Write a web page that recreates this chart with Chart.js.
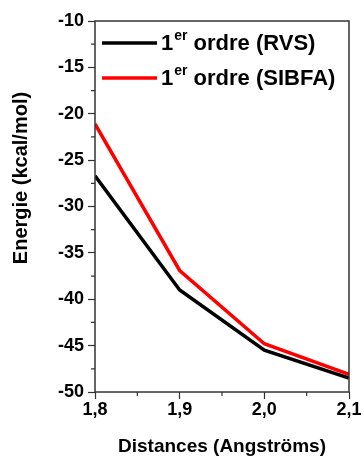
<!DOCTYPE html>
<html>
<head>
<meta charset="utf-8">
<script src="https://cdn.jsdelivr.net/npm/chart.js@4.4.0/dist/chart.umd.min.js"></script>
<style>
  html, body { margin: 0; padding: 0; background: #fff; }
  #wrap { width: 364px; height: 456px; }
</style>
</head>
<body>
<div id="wrap"><canvas id="graph"></canvas></div>
<script>
const distances = [1.8, 1.9, 2.0, 2.1];
const rvs = [-26.7, -39.0, -45.5, -48.5];
const sibfa = [-21.1, -36.9, -44.8, -48.1];
const seriesNames = ["1er ordre (RVS)", "1er ordre (SIBFA)"];
const seriesColors = ["#000000", "#ff0000"];

const font = "'Liberation Sans', Arial, sans-serif";
const axisColor = "#333";

function isMajor(v, step) {
  const r = v / step;
  return Math.abs(r - Math.round(r)) < 1e-6;
}

// cadre, petites graduations, legende avec exposant, titre Y
const extras = {
  id: "extras",
  afterDraw(chart) {
    const ctx = chart.ctx;
    const a = chart.chartArea;
    const x = chart.scales.x, y = chart.scales.y;
    ctx.save();
    ctx.strokeStyle = axisColor;
    ctx.lineWidth = 1.5;
    ctx.strokeRect(a.left, a.top, a.right - a.left, a.bottom - a.top);

    ctx.lineWidth = 1.2;
    ctx.beginPath();
    x.ticks.forEach(t => {
      if (!isMajor(t.value, 0.1)) {
        const px = x.getPixelForValue(t.value);
        ctx.moveTo(px, a.bottom);
        ctx.lineTo(px, a.bottom + 4);
      }
    });
    y.ticks.forEach(t => {
      if (!isMajor(t.value, 5)) {
        const py = y.getPixelForValue(t.value);
        ctx.moveTo(a.left, py);
        ctx.lineTo(a.left - 4, py);
      }
    });
    ctx.stroke();

    // legende
    chart.data.datasets.forEach((ds, i) => {
      const ly = 43 + i * 35;
      ctx.strokeStyle = ds.borderColor;
      ctx.lineWidth = 3.5;
      ctx.beginPath();
      ctx.moveTo(102, ly);
      ctx.lineTo(157, ly);
      ctx.stroke();
      const m = ds.label.match(/^(\d)(er)(.*)$/);
      ctx.fillStyle = "#000";
      ctx.textBaseline = "middle";
      ctx.textAlign = "left";
      ctx.font = "bold 22px " + font;
      let tx = 161;
      ctx.fillText(m[1], tx, ly + 1);
      tx += ctx.measureText(m[1]).width;
      ctx.font = "bold 14px " + font;
      ctx.fillText(m[2], tx + 1, ly - 7);
      tx += ctx.measureText(m[2]).width + 1;
      ctx.font = "bold 22px " + font;
      ctx.fillText(m[3], tx, ly + 1);
    });

    // titre axe Y
    ctx.translate(21, 178);
    ctx.rotate(-Math.PI / 2);
    ctx.font = "bold 20px " + font;
    ctx.fillStyle = "#000";
    ctx.textAlign = "center";
    ctx.textBaseline = "middle";
    ctx.fillText("Energie (kcal/mol)", 0, 0);
    ctx.restore();
  }
};

new Chart(document.getElementById("graph"), {
  type: "line",
  data: {
    labels: distances,
    datasets: [
      {
        label: seriesNames[0],
        data: distances.map((d, i) => ({ x: d, y: rvs[i] })),
        borderColor: seriesColors[0],
        borderWidth: 3.5,
        pointRadius: 0,
        tension: 0,
      },
      {
        label: seriesNames[1],
        data: distances.map((d, i) => ({ x: d, y: sibfa[i] })),
        borderColor: seriesColors[1],
        borderWidth: 3.5,
        pointRadius: 0,
        tension: 0,
      },
    ],
  },
  options: {
    responsive: true,
    maintainAspectRatio: false,
    animation: false,
    layout: { padding: { top: 21, right: 15, left: 0, bottom: 0 } },
    plugins: {
      legend: { display: false },
      tooltip: { enabled: false },
    },
    scales: {
      x: {
        type: "linear",
        min: 1.8,
        max: 2.1,
        afterFit: s => { s.height = 64; },
        border: { display: false },
        grid: {
          drawOnChartArea: false,
          tickLength: 7,
          tickWidth: 1.2,
          tickColor: c => (c.tick && isMajor(c.tick.value, 0.1) ? axisColor : "transparent"),
        },
        ticks: {
          stepSize: 0.05,
          autoSkip: false,
          maxRotation: 0,
          padding: 0,
          color: "#000",
          font: { family: font, size: 18, weight: "bold" },
          callback: v => (isMajor(v, 0.1) ? v.toFixed(1).replace(".", ",") : ""),
        },
        title: {
          display: true,
          text: "Distances (Angströms)",
          color: "#000",
          font: { family: font, size: 19, weight: "bold", lineHeight: 1 },
          padding: { top: 0, bottom: 0 },
        },
      },
      y: {
        min: -50,
        max: -10,
        afterFit: s => { s.width = 95; },
        border: { display: false },
        grid: {
          drawOnChartArea: false,
          tickLength: 7,
          tickWidth: 1.2,
          tickColor: c => (c.tick && isMajor(c.tick.value, 5) ? axisColor : "transparent"),
        },
        ticks: {
          stepSize: 2.5,
          autoSkip: false,
          padding: 4,
          color: "#000",
          font: { family: font, size: 18, weight: "bold" },
          callback: v => (isMajor(v, 5) ? String(v) : ""),
        },
      },
    },
  },
  plugins: [extras],
});
</script>
</body>
</html>
